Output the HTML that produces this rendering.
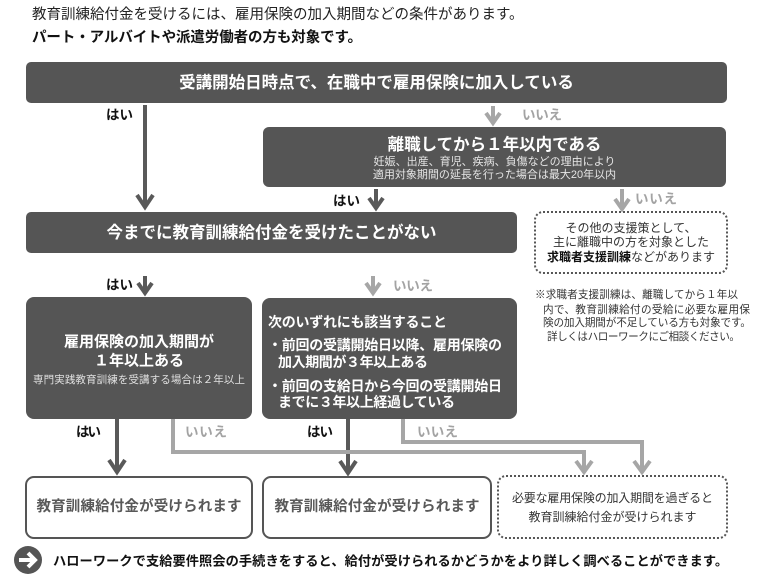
<!DOCTYPE html>
<html><head><meta charset="utf-8">
<style>
html,body{margin:0;padding:0;background:#fff;}
svg{display:block;}
text{font-family:"Liberation Sans","Noto Sans CJK JP",sans-serif;dominant-baseline:central;}
.w{fill:#fff;font-weight:bold;}
.yes{fill:#111;font-weight:bold;font-size:13.5px;}
.no{fill:#a3a3a3;font-weight:bold;font-size:13.5px;}
.dk{stroke:#595959;stroke-width:4;fill:none;stroke-linejoin:miter;}
.gr{stroke:#a6a6a6;stroke-width:4;fill:none;stroke-linejoin:miter;}
</style></head>
<body>
<svg width="768" height="586" viewBox="0 0 768 586" xmlns="http://www.w3.org/2000/svg">
<!-- header -->
<text x="32" y="15" font-size="14.5" fill="#222">教育訓練給付金を受けるには、雇用保険の加入期間などの条件があります。</text>
<text x="32" y="38" font-size="14.5" fill="#111" font-weight="bold" textLength="330" lengthAdjust="spacing">パート・アルバイトや派遣労働者の方も対象です。</text>

<!-- box1 -->
<rect x="26" y="62" width="701" height="41" rx="5" fill="#555"/>
<text class="w" x="376.5" y="83" font-size="16.5" text-anchor="middle">受講開始日時点で、在職中で雇用保険に加入している</text>

<!-- box2 -->
<rect x="263" y="127" width="463" height="60" rx="6" fill="#555"/>
<text class="w" x="494.5" y="145" font-size="16.5" text-anchor="middle">離職してから１年以内である</text>
<text x="494.5" y="162" font-size="11" fill="#e6e6e6" text-anchor="middle">妊娠、出産、育児、疾病、負傷などの理由により</text>
<text x="494.5" y="175" font-size="11" fill="#e6e6e6" text-anchor="middle">適用対象期間の延長を行った場合は最大20年以内</text>

<!-- box3 -->
<rect x="26" y="212" width="491" height="41" rx="5" fill="#555"/>
<text class="w" x="271.5" y="233" font-size="16.5" text-anchor="middle">今までに教育訓練給付金を受けたことがない</text>

<!-- dotted box A -->
<rect x="535" y="212" width="192" height="61" rx="8" fill="#fff" stroke="#555" stroke-width="2" stroke-dasharray="2 2"/>
<text x="631" y="228" font-size="12" fill="#333" text-anchor="middle">その他の支援策として、</text>
<text x="631" y="242" font-size="12" fill="#333" text-anchor="middle">主に離職中の方を対象とした</text>
<text x="631" y="257" font-size="12" fill="#333" text-anchor="middle"><tspan font-weight="bold" fill="#111">求職者支援訓練</tspan>などがあります</text>

<!-- note -->
<text x="535" y="295" font-size="10.6" fill="#333" textLength="203" lengthAdjust="spacing">※求職者支援訓練は、離職してから１年以</text>
<text x="543" y="310" font-size="10.6" fill="#333" textLength="207" lengthAdjust="spacing">内で、教育訓練給付の受給に必要な雇用保</text>
<text x="543" y="323" font-size="10.6" fill="#333" textLength="208" lengthAdjust="spacing">険の加入期間が不足している方も対象です。</text>
<text x="547" y="337" font-size="10.6" fill="#333" textLength="193" lengthAdjust="spacing">詳しくはハローワークにご相談ください。</text>

<!-- box4 -->
<rect x="26" y="297" width="226" height="122" rx="8" fill="#555"/>
<text class="w" x="139" y="342" font-size="15" text-anchor="middle">雇用保険の加入期間が</text>
<text class="w" x="139" y="361" font-size="15" text-anchor="middle">１年以上ある</text>
<text x="139" y="380" font-size="10.5" fill="#e0e0e0" text-anchor="middle" textLength="212" lengthAdjust="spacing">専門実践教育訓練を受講する場合は２年以上</text>

<!-- box5 -->
<rect x="262" y="298" width="255" height="121" rx="8" fill="#555"/>
<text class="w" x="268" y="322" font-size="14" textLength="179" lengthAdjust="spacing">次のいずれにも該当すること</text>
<text class="w" x="268" y="345" font-size="14" textLength="234" lengthAdjust="spacing">・前回の受講開始日以降、雇用保険の</text>
<text class="w" x="278" y="362" font-size="14" textLength="150" lengthAdjust="spacing">加入期間が３年以上ある</text>
<text class="w" x="268" y="386" font-size="14" textLength="234" lengthAdjust="spacing">・前回の支給日から今回の受講開始日</text>
<text class="w" x="278" y="402" font-size="14" textLength="177" lengthAdjust="spacing">までに３年以上経過している</text>

<!-- result boxes -->
<rect x="26" y="477" width="226" height="61" rx="8" fill="#fff" stroke="#555" stroke-width="2"/>
<text x="139" y="507" font-size="14.5" fill="#595959" font-weight="bold" text-anchor="middle" textLength="205" lengthAdjust="spacing">教育訓練給付金が受けられます</text>
<rect x="263" y="477" width="228" height="61" rx="8" fill="#fff" stroke="#555" stroke-width="2"/>
<text x="377" y="507" font-size="14.5" fill="#595959" font-weight="bold" text-anchor="middle" textLength="205" lengthAdjust="spacing">教育訓練給付金が受けられます</text>
<rect x="498" y="476" width="229" height="62" rx="8" fill="#fff" stroke="#555" stroke-width="2" stroke-dasharray="2 2"/>
<text x="612.5" y="498" font-size="12" fill="#333" text-anchor="middle" textLength="201" lengthAdjust="spacing">必要な雇用保険の加入期間を過ぎると</text>
<text x="612.5" y="517" font-size="12" fill="#333" text-anchor="middle">教育訓練給付金が受けられます</text>

<!-- dark arrows -->
<line class="dk" x1="145" y1="105" x2="145" y2="207"/>
<polyline class="dk" points="137,195 145,207 153,195"/>
<line class="dk" x1="376" y1="189" x2="376" y2="208"/>
<polyline class="dk" points="369,198 376,208 383,198"/>
<line class="dk" x1="145" y1="276" x2="145" y2="293"/>
<polyline class="dk" points="138,283 145,293 152,283"/>
<line class="dk" x1="117" y1="419" x2="117" y2="472"/>
<polyline class="dk" points="109,460 117,472 125,460"/>
<line class="dk" x1="348" y1="419" x2="348" y2="473"/>
<polyline class="dk" points="340,461 348,473 356,461"/>

<!-- gray arrows -->
<line class="gr" x1="493" y1="106" x2="493" y2="123"/>
<polyline class="gr" points="486,113 493,123 500,113"/>
<line class="gr" x1="622" y1="189" x2="622" y2="209"/>
<polyline class="gr" points="615,199 622,209 629,199"/>
<line class="gr" x1="373" y1="276" x2="373" y2="293"/>
<polyline class="gr" points="366,283 373,293 380,283"/>
<polyline class="gr" points="173,419 173,452 584,452 584,472"/>
<polyline class="gr" points="576,461 584,472 592,461"/>
<polyline class="gr" points="403,419 403,442 642,442 642,472"/>
<polyline class="gr" points="634,461 642,472 650,461"/>

<!-- yes / no labels -->
<text class="yes" x="106" y="115" textLength="27" lengthAdjust="spacing">はい</text>
<text class="yes" x="333" y="201" textLength="27" lengthAdjust="spacing">はい</text>
<text class="yes" x="106" y="285" textLength="27" lengthAdjust="spacing">はい</text>
<text class="yes" x="76" y="432" textLength="25" lengthAdjust="spacing">はい</text>
<text class="yes" x="307" y="432" textLength="26" lengthAdjust="spacing">はい</text>
<text class="no" x="522" y="115" textLength="40" lengthAdjust="spacing">いいえ</text>
<text class="no" x="635" y="199" textLength="42" lengthAdjust="spacing">いいえ</text>
<text class="no" x="393" y="286" textLength="40" lengthAdjust="spacing">いいえ</text>
<text class="no" x="185" y="432" textLength="42" lengthAdjust="spacing">いいえ</text>
<text class="no" x="417" y="432" textLength="41" lengthAdjust="spacing">いいえ</text>

<!-- footer -->
<circle cx="28" cy="560" r="14" fill="#555"/>
<line x1="19" y1="560" x2="34" y2="560" stroke="#fff" stroke-width="4"/>
<polyline points="28,553 35,560 28,567" stroke="#fff" stroke-width="4" fill="none"/>
<text x="53" y="561" font-size="13.2" fill="#111" font-weight="bold" textLength="675" lengthAdjust="spacing">ハローワークで支給要件照会の手続きをすると、給付が受けられるかどうかをより詳しく調べることができます。</text>
</svg>
</body></html>
